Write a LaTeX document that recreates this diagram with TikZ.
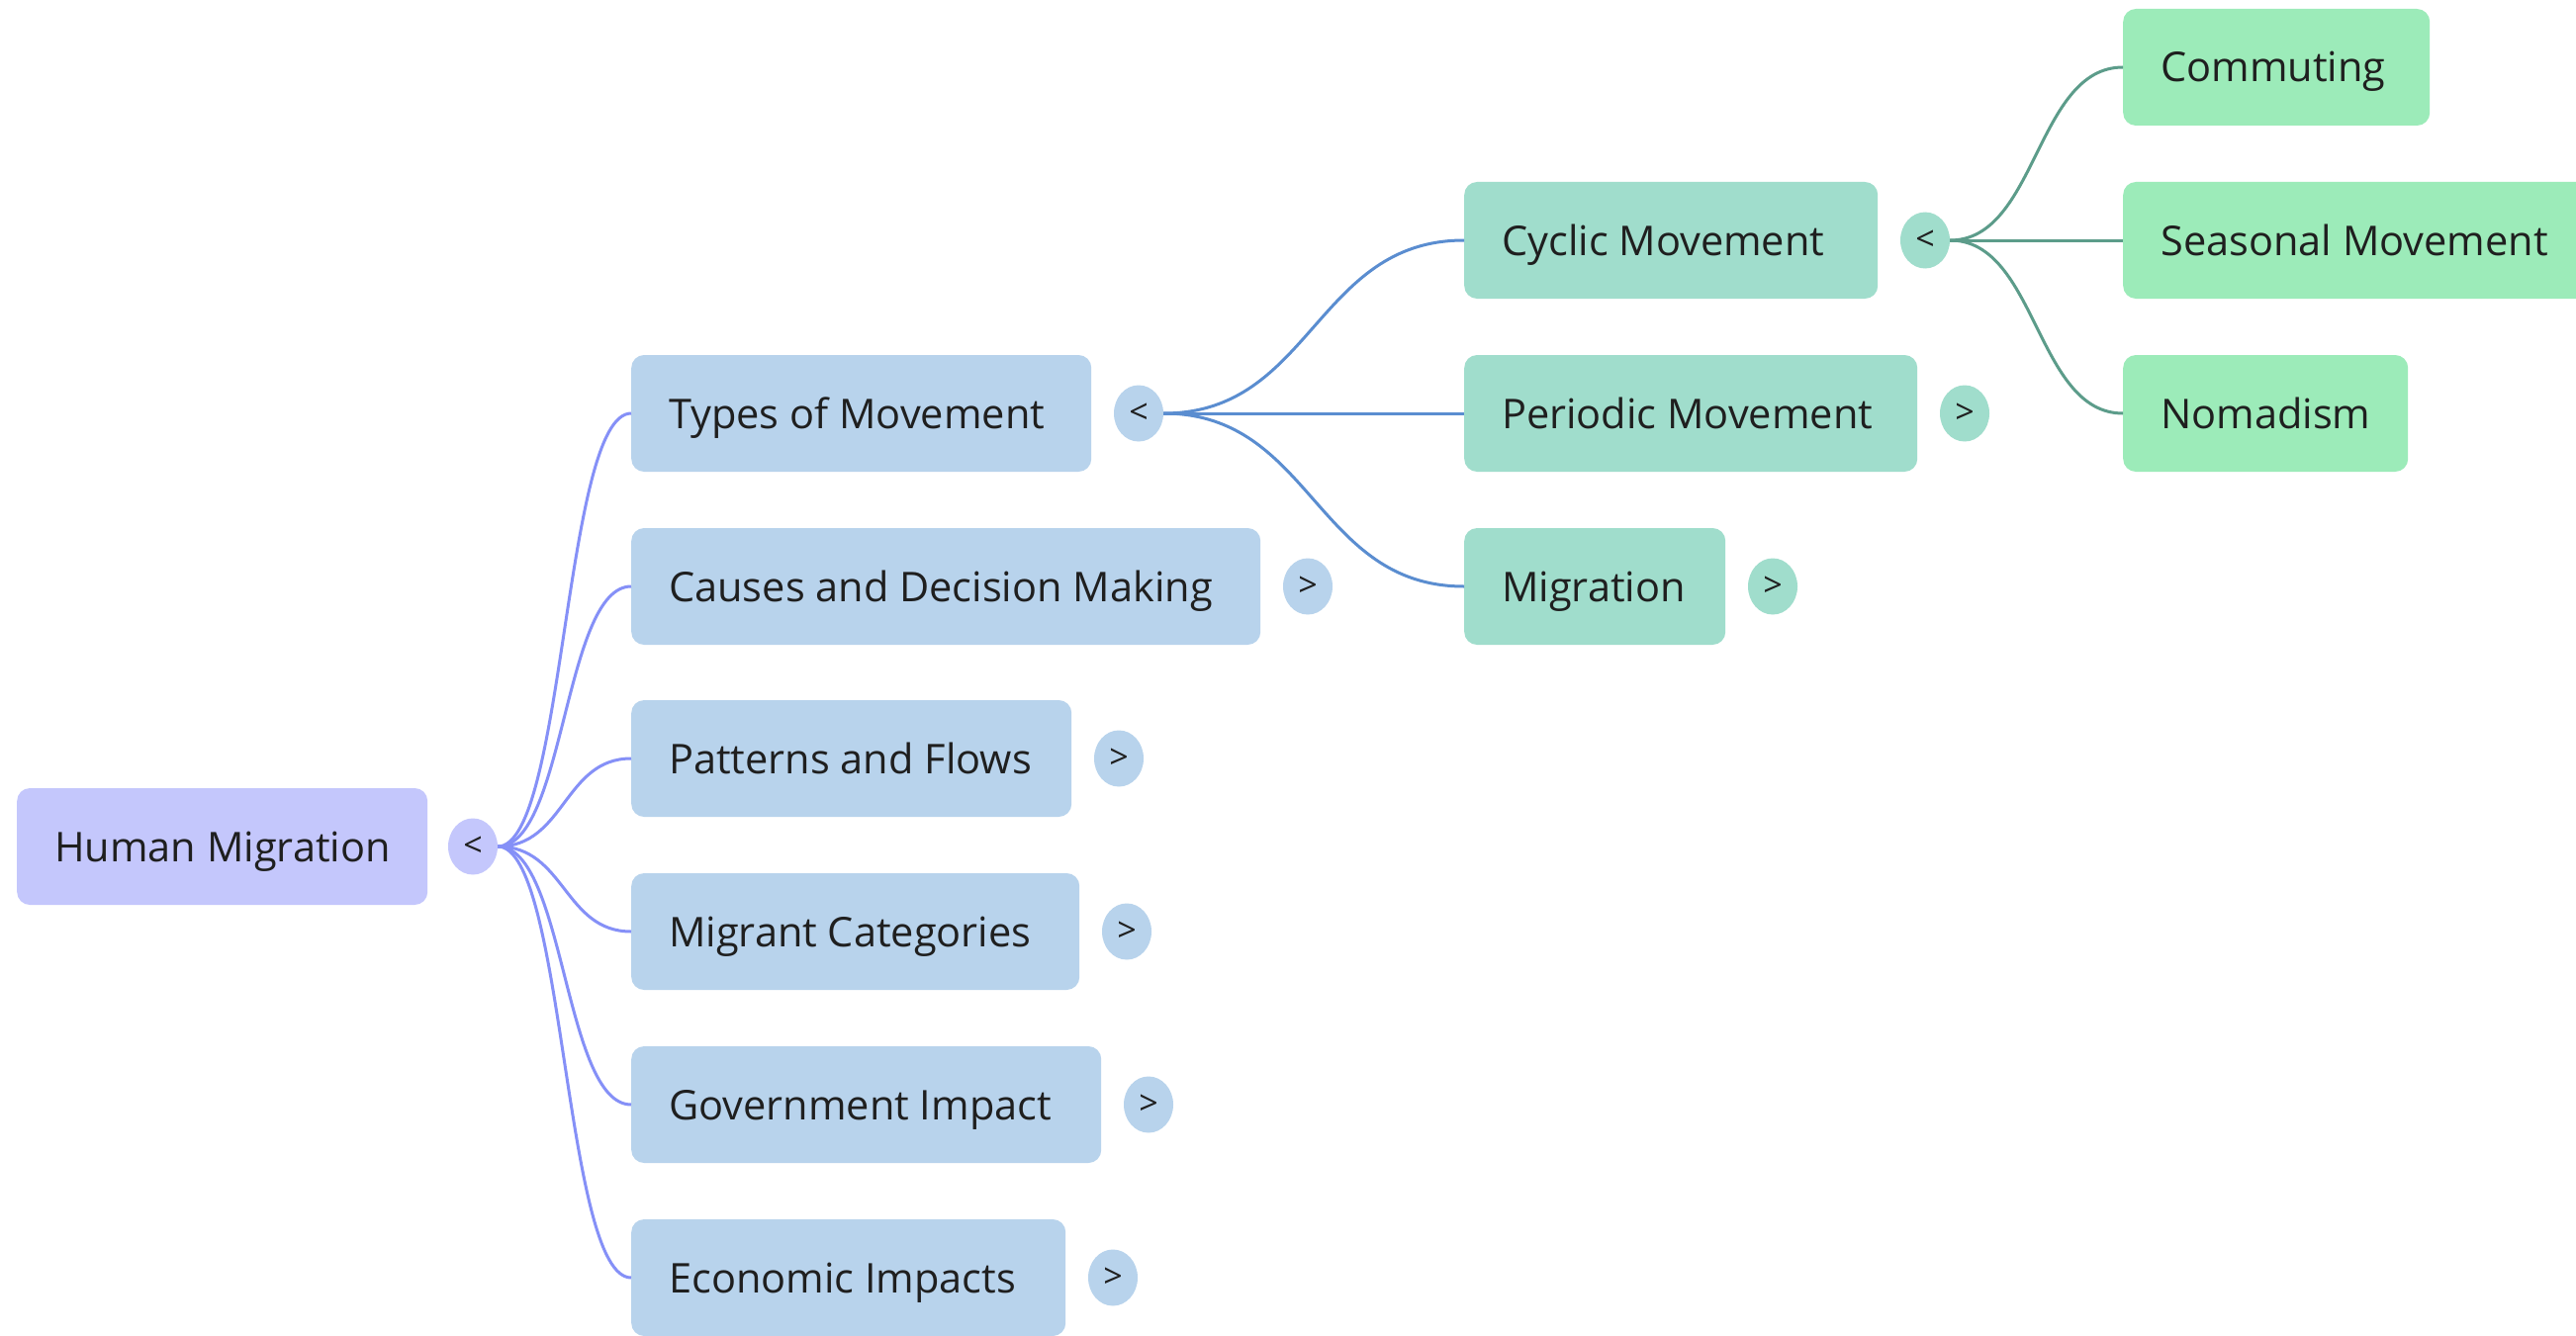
\documentclass[tikz,border=0pt]{standalone}
\usepackage{fontspec}
\setmainfont{Open Sans}
\usetikzlibrary{shapes.geometric}
\definecolor{txt}{HTML}{1F1F1F}
\definecolor{rootfill}{HTML}{C4C7FC}
\definecolor{lonefill}{HTML}{B8D3EC}
\definecolor{ltwofill}{HTML}{A0DDCC}
\definecolor{lthreefill}{HTML}{9CEBB9}
\definecolor{rootline}{HTML}{8590F7}
\definecolor{loneline}{HTML}{5A8DD0}
\definecolor{ltwoline}{HTML}{5C9C8A}
\newcommand\mmbox[6]{\node[mmnode, fill=#5, minimum width=#4pt] (#1) at (#2,#3) {\makebox[\dimexpr#4pt-76pt\relax][l]{#6}};}
\begin{document}
\begin{tikzpicture}[x=1pt,y=-1pt,
  mmnode/.style={rectangle, rounded corners=13pt, minimum height=118pt, anchor=west,
    inner xsep=38pt, inner ysep=0pt, text height=30pt, text depth=0pt,
    font=\fontsize{41.5}{48}\selectfont, text=txt},
  toggle/.style={ellipse, minimum width=50pt, minimum height=57pt, inner sep=0pt,
    font=\fontsize{34}{36}\selectfont, text=txt},
  conn/.style={line width=3pt}]
\clip (0,0) rectangle (2604,1351);
\fill[white] (0,0) rectangle (2604,1351);
% root
\mmbox{hm}{17}{856}{415}{rootfill}{Human Migration}
\node[toggle, fill=rootfill] (hmc) at (478,856) {<};
% level 1
\mmbox{tm}{638}{418}{465}{lonefill}{Types of Movement}
\mmbox{cd}{638}{593}{636}{lonefill}{Causes and Decision Making}
\mmbox{pf}{638}{767}{445}{lonefill}{Patterns and Flows}
\mmbox{mc}{638}{942}{453}{lonefill}{Migrant Categories}
\mmbox{gi}{638}{1117}{475}{lonefill}{Government Impact}
\mmbox{ei}{638}{1292}{439}{lonefill}{Economic Impacts}
\node[toggle, fill=lonefill] (tmc) at (1151,418) {<};
\node[toggle, fill=lonefill] (cdc) at (1322,593) {>};
\node[toggle, fill=lonefill] (pfc) at (1131,767) {>};
\node[toggle, fill=lonefill] (mcc) at (1139,942) {>};
\node[toggle, fill=lonefill] (gic) at (1161,1117) {>};
\node[toggle, fill=lonefill] (eic) at (1125,1292) {>};
% level 2
\mmbox{cm}{1480}{243}{418}{ltwofill}{Cyclic Movement}
\mmbox{pm}{1480}{418}{458}{ltwofill}{Periodic Movement}
\mmbox{mg}{1480}{593}{264}{ltwofill}{Migration}
\node[toggle, fill=ltwofill] (cmc) at (1946,243) {<};
\node[toggle, fill=ltwofill] (pmc) at (1986,418) {>};
\node[toggle, fill=ltwofill] (mgc) at (1792,593) {>};
% level 3
\mmbox{co}{2146}{68}{310}{lthreefill}{Commuting}
\mmbox{sm}{2146}{243}{494}{lthreefill}{Seasonal Movement}
\mmbox{no}{2146}{418}{288}{lthreefill}{Nomadism}
% connectors
\foreach \t in {tm,cd,pf,mc,gi,ei}
  \draw[conn, rootline] (hmc.east) .. controls +(68,0) and +(-68,0) .. (\t.west);
\foreach \t in {cm,pm,mg}
  \draw[conn, loneline] (tmc.east) .. controls +(150,0) and +(-150,0) .. (\t.west);
\foreach \t in {co,sm,no}
  \draw[conn, ltwoline] (cmc.east) .. controls +(88,0) and +(-88,0) .. (\t.west);
\end{tikzpicture}
\end{document}
